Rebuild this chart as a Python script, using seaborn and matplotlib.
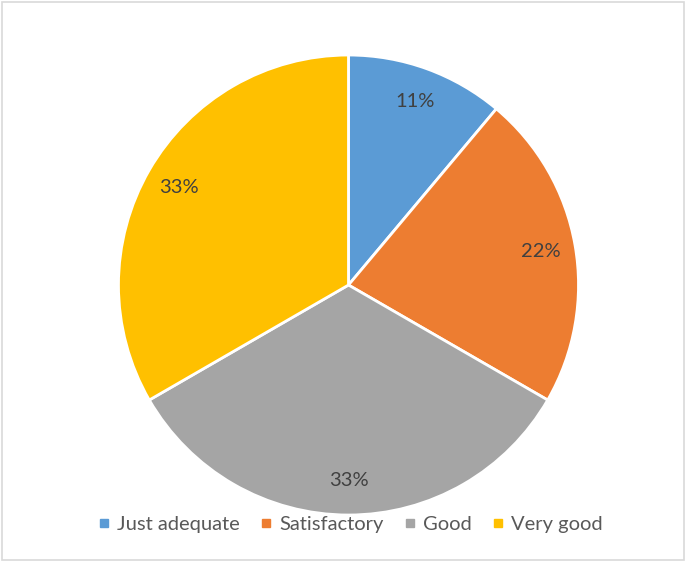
import matplotlib
matplotlib.use("Agg")
import matplotlib.pyplot as plt
from matplotlib.lines import Line2D
from matplotlib.patches import Rectangle
import seaborn as sns

categories = ["Just adequate", "Satisfactory", "Good", "Very good"]
counts = [1, 2, 3, 3]
colors = ["#5B9BD5", "#ED7D31", "#A5A5A5", "#FFC000"]

sns.set_theme(style="white")
plt.rcParams["font.family"] = ["Lato", "DejaVu Sans"]
palette = sns.color_palette(colors)

fig = plt.figure(figsize=(6.86, 5.62), dpi=100)
fig.patch.set_facecolor("white")

# square axes box holding the pie
ax = fig.add_axes([0.1727, 0.0836, 0.6706, 0.8185])
wedges, texts, autotexts = ax.pie(
    counts,
    colors=palette,
    startangle=90,
    counterclock=False,
    radius=1.0,
    autopct=lambda p: f"{p:.0f}%",
    pctdistance=0.85,
    wedgeprops=dict(edgecolor="white", linewidth=2.0),
    textprops=dict(color="#404040", fontsize=14.5),
)
ax.set_xlim(-1, 1)
ax.set_ylim(-1, 1)
ax.set_aspect("auto")
ax.axis("off")

handles = [
    Line2D([0], [0], marker="s", linestyle="none", markersize=6,
           markerfacecolor=c, markeredgecolor=c)
    for c in palette
]
fig.legend(
    handles, categories,
    loc="center", bbox_to_anchor=(0.511, 0.066), ncol=4, frameon=False,
    handlelength=0.6, handletextpad=0.35, columnspacing=1.0,
    prop=dict(size=14.5), labelcolor="#595959",
)

# thin chart-area border
fig.add_artist(Rectangle((0.003, 0.003), 0.994, 0.994, transform=fig.transFigure,
                         fill=False, edgecolor="#D9D9D9", linewidth=1.2))

fig.savefig("out.png", dpi=100, facecolor="white")
